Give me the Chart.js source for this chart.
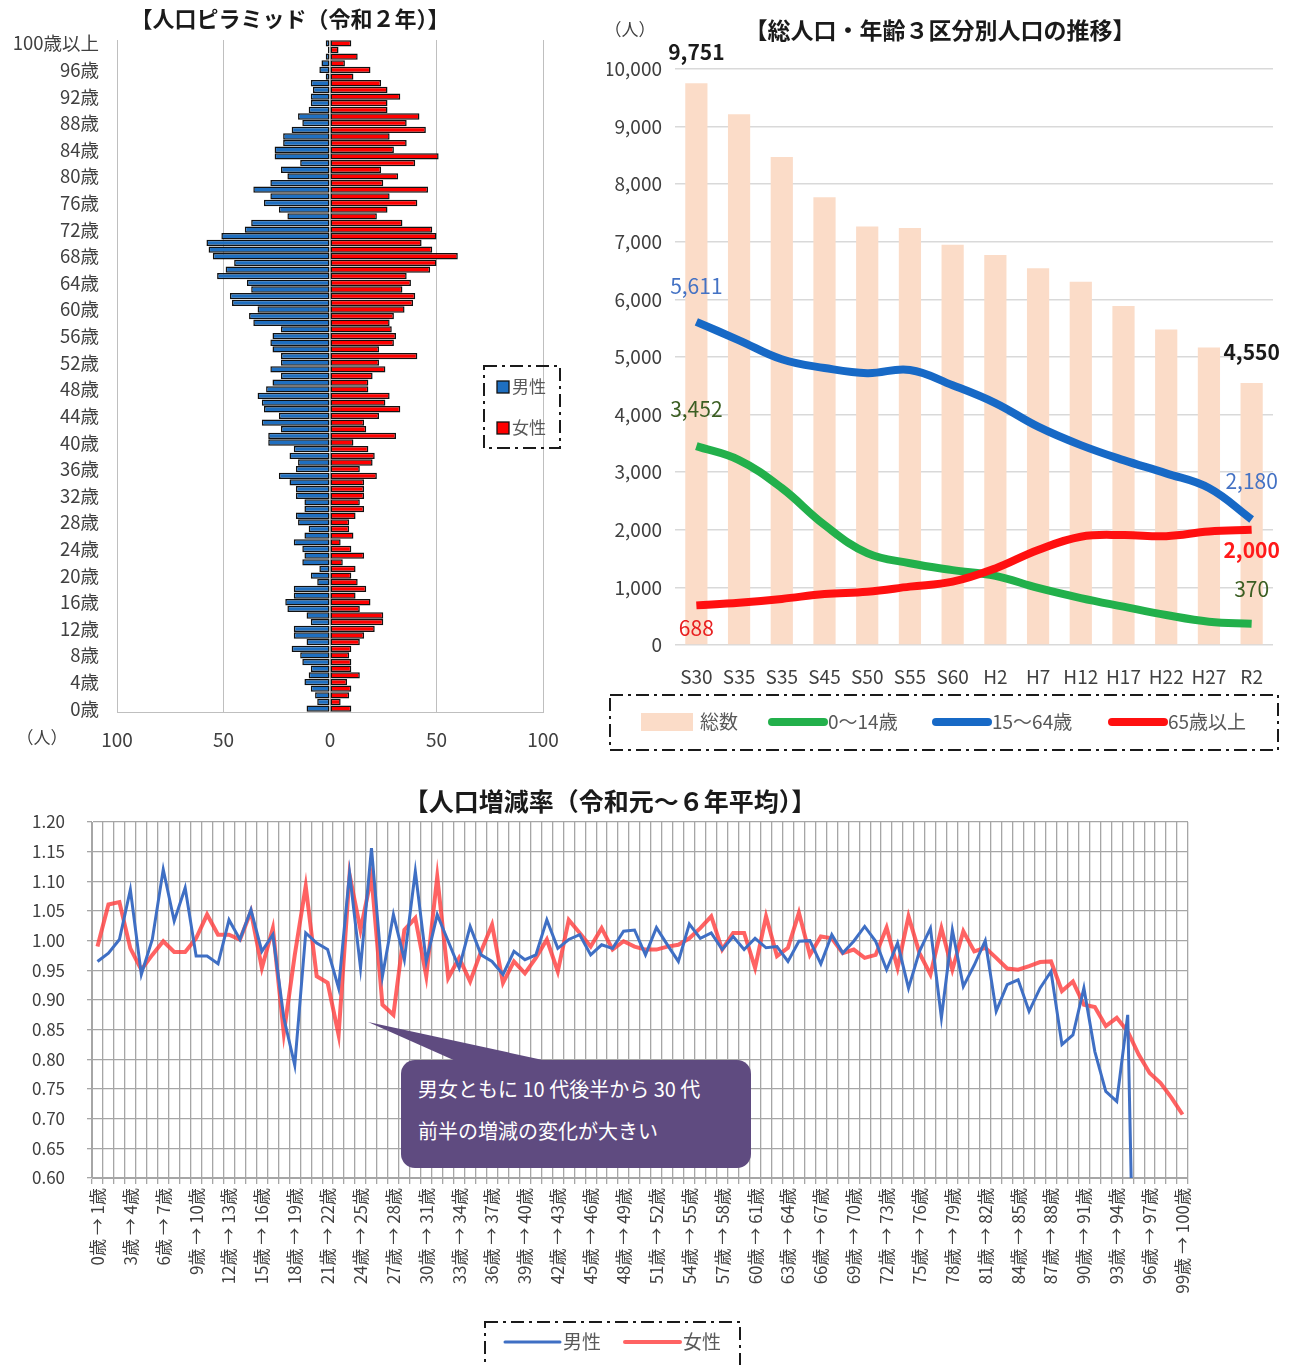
<!DOCTYPE html>
<html lang="ja">
<head>
<meta charset="utf-8">
<title>人口ピラミッド・人口推移・人口増減率</title>
<script src="https://cdn.jsdelivr.net/npm/chart.js@4.4.1/dist/chart.umd.min.js"></script>
<style>
  html, body { margin: 0; padding: 0; background: #fff; }
  body { width: 1298px; height: 1365px; position: relative; overflow: hidden;
         font-family: 'Noto Sans CJK JP', 'Noto Sans', sans-serif; }
  canvas { position: absolute; display: block; }
  #pyramid { left: 0; top: 0; }
  #trend { left: 590px; top: 0; }
  #rate { left: 0; top: 770px; }
  #pointer { position: absolute; left: 0; top: 0; }
  #note { position: absolute; left: 401px; top: 1060px; width: 333px; height: 100px;
          padding: 8px 0 0 17px; background: #5f4b80; border-radius: 14px;
          color: #fff; font-size: 20px; line-height: 42px; }
</style>
</head>
<body>
<canvas id="pyramid" width="575" height="765"></canvas>
<canvas id="trend" width="708" height="765"></canvas>
<canvas id="rate" width="1298" height="595"></canvas>
<svg id="pointer" width="1298" height="1365"><polygon points="368,1022 458,1062 552,1062" fill="#5f4b80"/></svg>
<div id="note">男女ともに 10 代後半から 30 代<br>前半の増減の変化が大きい</div>

<script>
// ---- 人口ピラミッド（令和2年）: 0歳 … 99歳, 100歳以上
const ageLabels = Array.from({ length: 100 }, (_, a) => a + "歳").concat(["100歳以上"]);
const maleCount = [
  11, 6, 7, 9, 12, 10, 9, 13, 14, 18,
  11, 17, 17, 9, 11, 20, 21, 17, 17, 6,
  9, 5, 13, 12, 13, 17, 12, 10, 15, 16,
  12, 12, 16, 16, 19, 24, 16, 15, 19, 17,
  29, 29, 23, 32, 24, 31, 32, 34, 30, 27,
  23, 28, 23, 23, 27, 28, 27, 23, 36, 38,
  34, 46, 47, 37, 39, 53, 49, 45, 55, 57,
  58, 51, 40, 37, 20, 24, 31, 28, 36, 28,
  20, 23, 14, 26, 26, 22, 22, 18, 13, 15,
  10, 9, 9, 8, 9, 2, 5, 4, 2, 1,
  2
];
const femaleCount = [
  10, 5, 9, 10, 8, 14, 10, 10, 9, 10,
  14, 16, 21, 25, 25, 14, 19, 12, 17, 13,
  10, 12, 6, 16, 10, 5, 11, 9, 9, 12,
  16, 14, 16, 16, 16, 22, 14, 20, 21, 18,
  11, 31, 17, 16, 23, 33, 26, 28, 18, 18,
  20, 26, 23, 41, 23, 30, 31, 29, 28, 30,
  35, 39, 40, 34, 38, 36, 47, 50, 60, 48,
  43, 50, 48, 34, 22, 27, 41, 28, 46, 25,
  32, 24, 40, 51, 30, 36, 28, 45, 36, 42,
  27, 27, 33, 27, 24, 11, 19, 7, 13, 4,
  10
];

// ---- 総人口・年齢3区分別人口の推移
const periods = ["S30", "S35", "S35", "S45", "S50", "S55", "S60", "H2", "H7", "H12", "H17", "H22", "H27", "R2"];
const totalPop = [9751, 9215, 8471, 7773, 7267, 7238, 6948, 6773, 6541, 6308, 5884, 5477, 5163, 4550];
const pop0to14 = [3452, 3210, 2725, 2085, 1595, 1420, 1300, 1200, 990, 815, 665, 520, 405, 370];
const pop15to64 = [5611, 5290, 4960, 4810, 4720, 4775, 4510, 4200, 3790, 3470, 3210, 2980, 2725, 2180];
const pop65over = [688, 735, 800, 885, 925, 1013, 1100, 1330, 1650, 1880, 1910, 1890, 1970, 2000];

// ---- 人口増減率（令和元～6年平均）: 0歳→1歳 … 99歳→100歳
const rateLabels = Array.from({ length: 100 }, (_, a) => a + "歳 → " + (a + 1) + "歳");
const rateMale = [
  0.965, 0.979, 1.002, 1.086, 0.943, 1.002, 1.120, 1.033, 1.089, 0.974,
  0.974, 0.961, 1.035, 1.002, 1.052, 0.982, 1.010, 0.870, 0.790, 1.013,
  0.996, 0.985, 0.920, 1.114, 0.954, 1.156, 0.940, 1.044, 0.968, 1.117,
  0.965, 1.044, 0.999, 0.954, 1.024, 0.976, 0.965, 0.943, 0.982, 0.968,
  0.976, 1.035, 0.987, 1.002, 1.010, 0.976, 0.993, 0.987, 1.016, 1.018,
  0.976, 1.022, 0.993, 0.965, 1.028, 1.004, 1.013, 0.985, 1.007, 0.985,
  1.004, 0.988, 0.990, 0.965, 0.999, 1.000, 0.961, 1.010, 0.979, 0.999,
  1.024, 0.999, 0.951, 0.996, 0.920, 0.982, 1.021, 0.870, 1.018, 0.923,
  0.959, 1.000, 0.881, 0.926, 0.934, 0.881, 0.920, 0.948, 0.825, 0.841,
  0.920, 0.813, 0.746, 0.729, 0.875, 0, null, null, null, null
];
const rateFemale = [
  0.990, 1.061, 1.065, 0.987, 0.951, 0.976, 0.999, 0.981, 0.981, 1.004,
  1.044, 1.010, 1.010, 1.002, 1.049, 0.954, 1.021, 0.844, 0.976, 1.092,
  0.940, 0.929, 0.841, 1.111, 1.018, 1.108, 0.892, 0.875, 1.018, 1.038,
  0.940, 1.108, 0.937, 0.971, 0.931, 0.982, 1.027, 0.929, 0.965, 0.945,
  0.971, 1.002, 0.948, 1.035, 1.013, 0.990, 1.021, 0.985, 0.999, 0.990,
  0.985, 0.985, 0.990, 0.993, 1.004, 1.021, 1.041, 0.985, 1.013, 1.013,
  0.954, 1.041, 0.974, 0.988, 1.047, 0.976, 1.007, 1.004, 0.979, 0.985,
  0.971, 0.976, 1.022, 0.954, 1.041, 0.979, 0.943, 1.021, 0.951, 1.016,
  0.982, 0.988, 0.971, 0.953, 0.951, 0.957, 0.964, 0.965, 0.915, 0.931,
  0.892, 0.888, 0.856, 0.870, 0.847, 0.808, 0.777, 0.760, 0.735, 0.707
];

const FONT = "'Noto Sans CJK JP', 'Noto Sans', sans-serif";
Chart.defaults.font.family = FONT;
Chart.defaults.color = "#404040";
Chart.defaults.animation = false;
Chart.defaults.plugins.tooltip.enabled = false;
Chart.defaults.plugins.legend.display = false;

const el = (id) => document.getElementById(id);

// legend inside a dash-dot frame (like the Excel charts)
function boxLegend(id, cfg) {
  return {
    id,
    afterDraw(chart) {
      const ctx = chart.ctx;
      ctx.save();
      ctx.strokeStyle = "#1a1a1a";
      ctx.lineWidth = 2;
      ctx.setLineDash([13, 5, 3, 5]);
      ctx.strokeRect(cfg.box[0], cfg.box[1], cfg.box[2], cfg.box[3]);
      ctx.setLineDash([]);
      ctx.font = cfg.font;
      ctx.textBaseline = "middle";
      ctx.textAlign = "left";
      cfg.items.forEach(it => {
        const ds = chart.data.datasets[it.ds];
        if (it.mark === "line") {
          ctx.strokeStyle = ds.borderColor;
          ctx.lineWidth = it.lw;
          ctx.lineCap = "round";
          ctx.beginPath();
          ctx.moveTo(it.x, it.y);
          ctx.lineTo(it.x + it.w, it.y);
          ctx.stroke();
        } else {
          ctx.fillStyle = ds.backgroundColor;
          ctx.fillRect(it.x, it.y - it.h / 2, it.w, it.h);
          if (it.border) {
            ctx.strokeStyle = "#111";
            ctx.lineWidth = 1.3;
            ctx.strokeRect(it.x, it.y - it.h / 2, it.w, it.h);
          }
        }
        ctx.fillStyle = "#595959";
        ctx.fillText(ds.label, it.tx, it.y);
      });
      ctx.restore();
    }
  };
}

// free text: unit marks and the pyramid title
function fixedText(id, items) {
  return {
    id,
    afterDraw(chart) {
      const ctx = chart.ctx;
      ctx.save();
      ctx.textAlign = "center";
      ctx.textBaseline = "middle";
      items.forEach(t => {
        ctx.font = t.font;
        ctx.fillStyle = t.color;
        ctx.fillText(t.text, t.x, t.y);
      });
      ctx.restore();
    }
  };
}

// PYRAMID
new Chart(el("pyramid"), {
  type: "bar",
  data: {
    labels: ageLabels,
    datasets: [
      { label: "男性", data: maleCount.map(v => -v), backgroundColor: "#1f6fc0",
        borderColor: "#111", borderWidth: 1.5, borderSkipped: false },
      { label: "女性", data: femaleCount, backgroundColor: "#ff0000",
        borderColor: "#111", borderWidth: 1.5, borderSkipped: false }
    ]
  },
  options: {
    responsive: false,
    indexAxis: "y",
    categoryPercentage: 1,
    barPercentage: 0.95,
    layout: { padding: { left: 0, right: 32, top: 40 } },
    scales: {
      x: {
        stacked: true, min: -100, max: 100,
        ticks: { stepSize: 50, callback: v => Math.abs(v), font: { size: 19 }, padding: 16 },
        grid: { color: "#bfbfbf", drawTicks: false },
        border: { display: true, color: "#bfbfbf" },
        afterFit: s => { s.height = 53; }
      },
      y: {
        stacked: true, reverse: true,
        ticks: { autoSkip: false, callback: (v, i) => (i % 4 === 0 ? ageLabels[i] : ""),
                 font: { size: 18.5 }, padding: 18 },
        grid: { display: false, drawTicks: false },
        border: { display: false },
        afterFit: s => { s.width = 117; }
      }
    }
  },
  plugins: [
    boxLegend("pyrLegend", {
      box: [484, 366, 76, 82], font: "17px " + FONT,
      items: [
        { ds: 0, mark: "rect", x: 497, y: 387, w: 12, h: 12, border: true, tx: 512 },
        { ds: 1, mark: "rect", x: 497, y: 428, w: 12, h: 12, border: true, tx: 512 }
      ]
    }),
    fixedText("pyrText", [
      { text: "【人口ピラミッド（令和２年）】", x: 290, y: 19, font: "bold 22px " + FONT, color: "#1a1a1a" },
      { text: "（人）", x: 42, y: 738, font: "17px " + FONT, color: "#404040" }
    ])
  ]
});

// TREND (総数 bars + 3 age groups)
const valueLabelSpecs = [
  { ds: 0, i: 0, dy: -31, color: "#1a1a1a", weight: "bold", size: 21 },
  { ds: 0, i: 13, dy: -31, color: "#1a1a1a", weight: "bold", size: 21 },
  { ds: 2, i: 0, dy: -36, color: "#4472c4", weight: "normal", size: 21 },
  { ds: 1, i: 0, dy: -37, color: "#3b5e22", weight: "normal", size: 21 },
  { ds: 3, i: 0, dy: 23, color: "#e82020", weight: "normal", size: 21 },
  { ds: 2, i: 13, dy: -38, color: "#4472c4", weight: "normal", size: 21 },
  { ds: 3, i: 13, dy: 20, color: "#ff1a1a", weight: "bold", size: 21 },
  { ds: 1, i: 13, dy: -35, color: "#3b5e22", weight: "normal", size: 21 }
];
const valueLabels = {
  id: "valueLabels",
  afterDatasetsDraw(chart) {
    const ctx = chart.ctx;
    ctx.save();
    ctx.textAlign = "center";
    ctx.textBaseline = "middle";
    valueLabelSpecs.forEach(s => {
      const pt = chart.getDatasetMeta(s.ds).data[s.i];
      const v = chart.data.datasets[s.ds].data[s.i];
      ctx.font = s.weight + " " + s.size + "px " + FONT;
      ctx.fillStyle = s.color;
      ctx.fillText(v.toLocaleString("en-US"), pt.x, pt.y + s.dy);
    });
    ctx.restore();
  }
};

new Chart(el("trend"), {
  data: {
    labels: periods,
    datasets: [
      { type: "bar", label: "総数", data: totalPop, backgroundColor: "#fbdcc8",
        barPercentage: 0.52, categoryPercentage: 1, order: 2 },
      { type: "line", label: "0～14歳", data: pop0to14, borderColor: "#22b04b",
        borderWidth: 8, pointRadius: 0, tension: 0.4, order: 1 },
      { type: "line", label: "15～64歳", data: pop15to64, borderColor: "#1769c6",
        borderWidth: 8, pointRadius: 0, tension: 0.4, order: 1 },
      { type: "line", label: "65歳以上", data: pop65over, borderColor: "#ff1010",
        borderWidth: 8, pointRadius: 0, tension: 0.4, order: 0 }
    ]
  },
  options: {
    responsive: false,
    layout: { padding: { left: 17, right: 25 } },
    plugins: {
      title: { display: true, text: "【総人口・年齢３区分別人口の推移】", color: "#1a1a1a",
               font: { size: 23, weight: "bold" }, padding: { top: 16, bottom: 25.4 } }
    },
    scales: {
      x: {
        ticks: { font: { size: 19 }, padding: 20, autoSkip: false, maxRotation: 0 },
        grid: { display: false, drawTicks: false },
        border: { display: false },
        afterFit: s => { s.height = 120; }
      },
      y: {
        min: 0, max: 10000,
        ticks: { stepSize: 1000, callback: v => v.toLocaleString("en-US"), font: { size: 19 }, padding: 13 },
        grid: { color: "#d9d9d9", lineWidth: 1.5, drawTicks: false },
        border: { display: false },
        afterFit: s => { s.width = 68; }
      }
    }
  },
  plugins: [
    valueLabels,
    boxLegend("trendLegend", {
      box: [20, 695, 668, 55], font: "19px " + FONT,
      items: [
        { ds: 0, mark: "rect", x: 51, y: 722, w: 52, h: 18, tx: 110 },
        { ds: 1, mark: "line", x: 182, y: 722, w: 52, lw: 8, tx: 238 },
        { ds: 2, mark: "line", x: 346, y: 722, w: 52, lw: 8, tx: 402 },
        { ds: 3, mark: "line", x: 522, y: 722, w: 52, lw: 8, tx: 578 }
      ]
    }),
    fixedText("trendText", [
      { text: "（人）", x: 40, y: 30, font: "17px " + FONT, color: "#404040" }
    ])
  ]
});

// RATE (line chart, 100 age steps)
new Chart(el("rate"), {
  type: "line",
  data: {
    labels: rateLabels,
    datasets: [
      { label: "男性", data: rateMale, borderColor: "#3f6fc4", borderWidth: 3,
        pointRadius: 0, tension: 0 },
      { label: "女性", data: rateFemale, borderColor: "rgba(255,60,60,0.8)", borderWidth: 4,
        pointRadius: 0, tension: 0 }
    ]
  },
  options: {
    responsive: false,
    layout: { padding: { left: 32, right: 110 } },
    plugins: {
      title: { display: true, text: "【人口増減率（令和元～６年平均）】", color: "#1a1a1a",
               font: { size: 25, weight: "bold" }, padding: { top: 16, bottom: 6 } }
    },
    scales: {
      x: {
        offset: true,
        grid: { offset: true, color: "#a6a6a6", lineWidth: 1.3, tickLength: 6 },
        border: { color: "#a6a6a6" },
        ticks: { autoSkip: false, minRotation: 90, maxRotation: 90, padding: 4,
                 font: { size: 17 }, callback: (v, i) => (i % 3 === 0 ? rateLabels[i] : "") },
        afterFit: s => { s.height = 187; }
      },
      y: {
        min: 0.6, max: 1.2,
        ticks: { stepSize: 0.05, callback: v => v.toFixed(2), font: { size: 17 }, padding: 22 },
        grid: { color: "#a6a6a6", lineWidth: 1.3, tickLength: 5 },
        border: { color: "#a6a6a6" },
        afterFit: s => { s.width = 60; }
      }
    }
  },
  plugins: [
    boxLegend("rateLegend", {
      box: [485, 552, 255, 60], font: "19px " + FONT,
      items: [
        { ds: 0, mark: "line", x: 505, y: 572, w: 55, lw: 3, tx: 563 },
        { ds: 1, mark: "line", x: 625, y: 572, w: 55, lw: 4, tx: 683 }
      ]
    })
  ]
});
</script>
</body>
</html>
